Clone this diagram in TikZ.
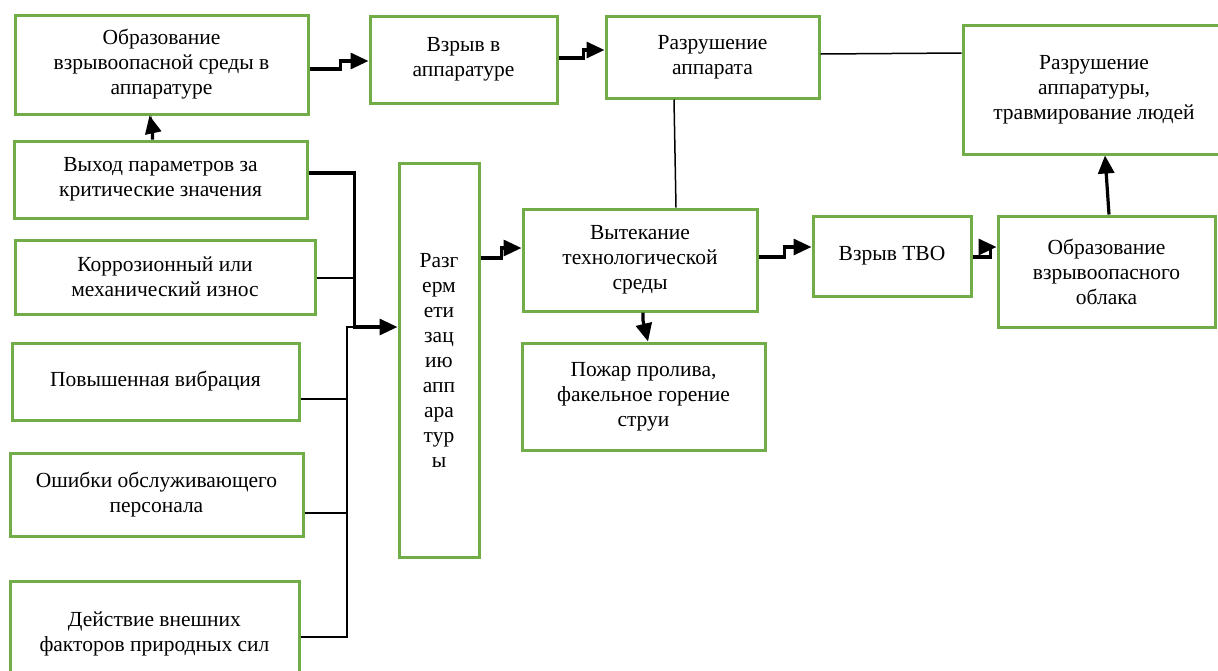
\documentclass[tikz,border=0pt]{standalone}
\usepackage{fontspec}
\setmainfont{Liberation Serif}
\usetikzlibrary{arrows.meta}
\definecolor{boxgreen}{HTML}{70AD47}
\begin{document}
\begin{tikzpicture}[x=1pt,y=-1pt,
  box/.style={draw=boxgreen, line width=3pt, inner sep=0pt, align=center,
    font=\fontsize{21.5}{25}\selectfont},
  thk/.style={line width=3.2pt, -{Triangle[length=18pt,width=16pt]}},
  thn/.style={line width=1.5pt}]
\fill[white] (0,0) rectangle (1218,670);
\useasboundingbox (0,0) rectangle (1218,670);

\node[box, minimum width=293pt, minimum height=99pt] (A) at (161.5,64.5)
  {Образование\\взрывоопасной среды в\\аппаратуре};
\node[box, minimum width=187pt, minimum height=87pt] (B) at (463.5,59.5)
  {Взрыв в\\аппаратуре};
\node[box, minimum width=213pt, minimum height=82pt] (C) at (712.5,57)
  {Разрушение\\аппарата};
\node[box, minimum width=262pt, minimum height=129pt] (D) at (1094,89.5)
  {Разрушение\\аппаратуры,\\травмирование людей};
\node[box, minimum width=293pt, minimum height=77pt] (E) at (160.5,179.5)
  {Выход параметров за\\критические значения};
\node[box, minimum width=300pt, minimum height=74pt] (F) at (165,277)
  {Коррозионный или\\механический износ};
\node[box, minimum width=287pt, minimum height=77pt] (G) at (155.5,381.5)
  {Повышенная вибрация};
\node[box, minimum width=293pt, minimum height=83pt] (H) at (156.5,494.5)
  {Ошибки обслуживающего\\персонала};
\node[box, minimum width=289pt, minimum height=106pt] (I) at (154.5,634)
  {Действие внешних\\факторов природных сил};
\node[box, minimum width=80pt, minimum height=394pt] (J) at (439,360)
  {Разг\\ерм\\ети\\зац\\ию\\апп\\ара\\тур\\ы};
\node[box, minimum width=234pt, minimum height=102pt] (K) at (640,260)
  {Вытекание\\технологической\\среды};
\node[box, minimum width=243pt, minimum height=107pt] (L) at (643.5,396.5)
  {Пожар пролива,\\факельное горение\\струи};
\node[box, minimum width=158pt, minimum height=80pt] (M) at (892,256)
  {Взрыв ТВО};
\node[box, minimum width=217pt, minimum height=111pt] (N) at (1106.5,271.5)
  {Образование\\взрывоопасного\\облака};

% bus junctions
\coordinate (bus1) at (353,327);
\coordinate (jb) at (347,327);

% thin connectors
\draw[thn] ([yshift=3pt]C.east) -- ([yshift=36.5pt]D.west);
\draw[thn] ([xshift=-38.5pt]C.south) -- ([xshift=36pt]K.north);
\draw[thn] ([yshift=-1pt]F.east) coordinate (f1) -- (f1 -| bus1);
\draw[thn] ([yshift=-17.5pt]G.east) coordinate (g1) -- (g1 -| jb);
\draw[thn] ([yshift=-18.5pt]H.east) coordinate (h1) -- (h1 -| jb);
\draw[thn] ([yshift=-3pt]I.east) -| (jb) -- (bus1);

% thick arrows
\draw[thk] ([yshift=-4.5pt]A.east) -- ++(31,0) |- ([yshift=-1.5pt]B.west);
\draw[thk] ([yshift=1.5pt]B.east) -- ++(25,0) |- ([yshift=7pt]C.west);
\draw[thk] ([xshift=-8pt]E.north) -- ++(0,-10) -- ([xshift=-12pt]A.south);
\draw[thk] ([yshift=6.5pt]E.east) -- ++(46,0) |- ([yshift=33pt]J.west);
\draw[thk] ([yshift=102pt]J.east) -- ++(21,0) |- ([yshift=12pt]K.west);
\draw[thk] ([yshift=3pt]K.east) -- ++(26,0) |- ([yshift=9pt]M.west);
\draw[thk] ([yshift=-1pt]M.east) -- ++(18,0) |- ([yshift=24.5pt]N.west);
\draw[thk] ([xshift=3pt]K.south) -- ++(0,8) -- ([xshift=4.5pt]L.north);
\draw[thk] ([xshift=2.5pt]N.north) -- ([xshift=11pt]D.south);
\end{tikzpicture}
\end{document}
